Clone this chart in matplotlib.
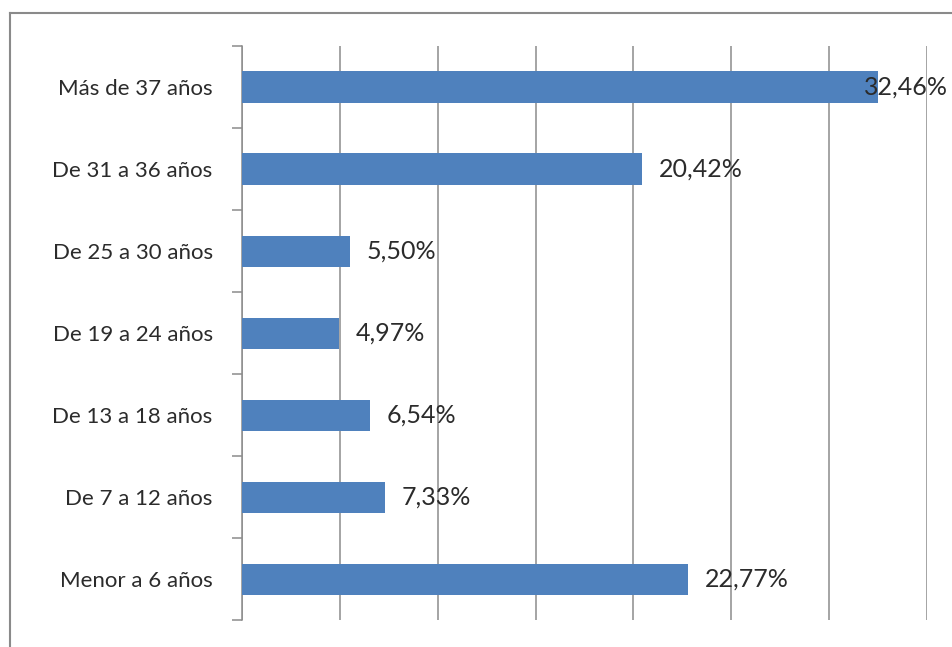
import numpy as np
import matplotlib.pyplot as plt
from matplotlib.lines import Line2D

# categories bottom -> top
categories = ["Menor a 6 años", "De 7 a 12 años", "De 13 a 18 años",
              "De 19 a 24 años", "De 25 a 30 años", "De 31 a 36 años",
              "Más de 37 años"]
values = [22.77, 7.33, 6.54, 4.97, 5.50, 20.42, 32.46]
labels = ["22,77%", "7,33%", "6,54%", "4,97%", "5,50%", "20,42%", "32,46%"]

bar_color = "#4F81BD"
text_color = "#2b2b2b"
grid_color = "#8c8c8c"

plt.rcParams['font.family'] = ['Lato', 'DejaVu Sans']

fig = plt.figure(figsize=(9.52, 6.47), dpi=100)
ax = fig.add_axes([0.254, 0.041, 0.72, 0.888])

y = np.arange(len(categories))
ax.barh(y, values, height=0.38, color=bar_color, zorder=3)

ax.set_xlim(0, 35)
ax.set_ylim(-0.5, len(categories) - 0.5)
ax.set_xticks(np.arange(0, 36, 5))
ax.xaxis.grid(True, color=grid_color, linewidth=1.1, zorder=0)
ax.tick_params(axis='x', length=0, labelbottom=False)

ax.set_yticks(y)
ax.set_yticklabels(categories, fontsize=16, color=text_color)
ax.tick_params(axis='y', length=0, pad=21)
ax.set_yticks(np.arange(-0.5, len(categories)), minor=True)
ax.tick_params(axis='y', which='minor', length=7, color=grid_color, width=1.1)

for side in ['top', 'right', 'bottom']:
    ax.spines[side].set_visible(False)
ax.spines['left'].set_color(grid_color)
ax.spines['left'].set_linewidth(1.1)

# data labels (Excel pulls the largest one back over the bar end)
vmax = max(values)
for yi, v, lab in zip(y, values, labels):
    if v == vmax:
        ax.annotate(lab, (v, yi), xytext=(-10, 0), textcoords='offset points',
                    ha='left', va='center', fontsize=18, color=text_color, zorder=4,
                    annotation_clip=False)
    else:
        ax.annotate(lab, (v, yi), xytext=(12, 0), textcoords='offset points',
                    ha='left', va='center', fontsize=18, color=text_color, zorder=4)

# chart frame
fig.add_artist(Line2D([0.0105, 0.0105], [0.0, 0.98], color="#8a8a8a", linewidth=1.5,
                      transform=fig.transFigure))
fig.add_artist(Line2D([0.0105, 1.0], [0.98, 0.98], color="#8a8a8a", linewidth=1.5,
                      transform=fig.transFigure))

fig.savefig("out.png", dpi=100)
